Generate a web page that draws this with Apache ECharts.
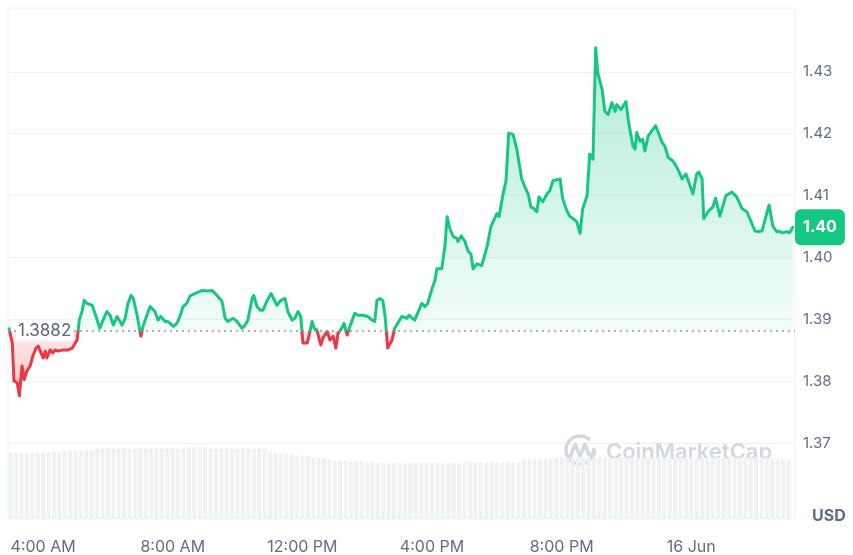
<!DOCTYPE html>
<html>
<head>
<meta charset="utf-8">
<script src="https://cdn.jsdelivr.net/npm/echarts@6.0.0/dist/echarts.min.js"></script>
<style>
  html, body { margin: 0; padding: 0; background: #fff; }
  #main { width: 853px; height: 555px; }
</style>
</head>
<body>
<div id="main"></div>
<script>
// price in USD, time in minutes from 15 Jun 00:00
const basePrice = 1.3882;
const times = [
  177,183,186,192,196,201,205,210,216,221,227,231,240,244,247,253,258,262,268,277,286,294,303,305,
  307,312,316,321,331,336,345,351,358,364,370,377,386,392,397,403,407,414,421,425,432,438,447,453,458,466,471,481,488,494,499,506,512,521,531,
  536,545,553,562,571,577,582,592,599,608,614,619,627,630,636,642,647,655,662,669,673,680,688,693,701,706,712,717,721,729,732,738,742,747,754,758,766,771,777,782,786,793,797,803,808,817,823,832,841,849,854,858,864,869,873,878,886,891,
  904,914,917,928,941,947,952,960,965,969,978,984,988,993,999,1006,1008,1014,1021,1027,1032,1036,1043,1052,1062,1069,1080,1084,1091,1097,1102,1110,1117,1126,1132,1138,1143,1149,1154,1158,1165,1173,1178,1184,1197,1202,1210,1215,1228,1234,1239,1247,1252,1258,
  1263,1267,1275,1280,1286,1293,1299,1302,1310,1319,1324,1332,1336,1339,1345,1350,1354,1360,1374,1386,1391,1397,1406,1415,1423,1430,1443,1450,1454,1460,1463,1471,1480,1485,1493,1504,1515,1524,1534,1543,1558,1563,1571,1584,1591,1598,1604,1609,1617,1622,1628
];
const prices = [
  1.3885,1.3862,1.3801,1.3798,1.3777,1.3825,1.3803,1.3817,1.3825,1.3841,1.3854,1.3857,1.3838,1.3849,1.3838,1.3851,1.3846,1.3851,1.3849,1.3851,1.3851,1.3854,1.3867,1.3883,
  1.3899,1.3913,1.3931,1.3926,1.3923,1.3910,1.3886,1.3899,1.3913,1.3907,1.3891,1.3905,1.3891,1.3902,1.3926,1.3939,1.3934,1.3907,1.3873,1.3889,1.3907,1.3921,1.3913,1.3899,1.3905,1.3897,1.3897,1.3889,1.3894,1.3907,1.3921,1.3926,1.3938,1.3942,1.3946,
  1.3947,1.3946,1.3947,1.3939,1.3930,1.3902,1.3897,1.3902,1.3897,1.3886,1.3891,1.3899,1.3934,1.3939,1.3921,1.3915,1.3915,1.3931,1.3942,1.3930,1.3923,1.3931,1.3934,1.3913,1.3899,1.3902,1.3913,1.3905,1.3862,1.3862,
  1.3873,1.3897,1.3886,1.3883,1.3859,1.3870,1.3881,1.3867,1.3873,1.3854,1.3878,1.3886,1.3894,1.3875,1.3889,1.3910,1.3907,1.3907,1.3905,1.3899,1.3897,1.3931,1.3934,1.3930,1.3907,1.3854,1.3867,1.3886,
  1.3905,1.3902,1.3907,1.3899,1.3926,1.3921,1.3926,1.3950,1.3962,1.3982,1.3982,1.4019,1.4066,1.4047,1.4034,1.4031,1.4026,1.4035,1.4026,1.4010,
  1.4006,1.3982,1.3990,1.3987,1.4018,1.4050,1.4071,1.4066,1.4100,1.4124,1.4201,1.4199,1.4175,1.4127,1.4114,1.4103,1.4082,1.4079,1.4074,1.4098,
  1.4090,1.4103,1.4108,1.4124,1.4127,1.4095,1.4075,1.4067,1.4058,1.4039,1.4079,1.4100,1.4167,1.4159,
  1.4339,1.4298,1.4271,1.4236,1.4231,1.4250,1.4236,1.4247,1.4239,1.4252,1.4218,1.4180,1.4175,1.4202,1.4188,1.4191,1.4172,1.4196,1.4213,1.4186,
  1.4180,1.4162,1.4156,1.4143,1.4127,1.4135,1.4103,1.4135,1.4138,1.4127,1.4063,1.4074,1.4082,1.4096,1.4067,1.4100,1.4106,1.4098,1.4079,1.4074,
  1.4043,1.4042,1.4043,1.4085,1.4051,1.4042,1.4042,1.4040,1.4042,1.4040,1.4049
];
// volume (millions), one bar every 10 minutes from 3:00 AM
const volStart = 180;
const volStep = 10;
const volumes = [
  6.7,6.7,6.7,6.6,6.7,6.7,6.7,6.7,6.8,6.7,6.8,
  6.9,6.9,6.9,7.0,6.9,
  7.1,7.1,7.1,7.1,7.1,7.1,7.1,7.1,7.1,7.1,7.1,7.1,7.1,7.1,7.1,7.1,7.1,
  7.2,7.2,7.3,7.2,7.1,
  7.1,7.1,7.1,7.1,7.1,7.1,7.1,7.1,7.1,7.1,
  6.7,6.7,6.6,
  6.5,6.5,6.4,
  6.3,6.3,6.2,6.2,6.1,6.0,
  5.9,5.9,5.9,5.8,5.8,5.8,5.7,5.7,5.7,
  5.6,5.6,5.6,5.6,5.6,5.6,5.6,5.6,5.6,5.6,5.6,5.6,5.6,5.6,5.6,
  5.7,5.7,5.7,5.7,5.7,5.7,5.7,5.7,5.7,5.7,5.7,
  5.9,6.0,6.0,6.0,6.0,6.1,6.1,
  6.2,6.2,6.2,6.2,6.2,6.2,6.2,6.2,6.2,6.2,6.2,6.2,6.2,6.2,6.2,6.2,6.2,6.2,6.2,6.2,
  6.2,6.2,6.2,6.2,6.2,6.2,6.2,6.2,6.2,6.2,6.2,6.2,6.2,6.2,6.2,6.2,6.2,6.2,6.2,
  6.1,6.0,6.0,6.0
];
const xTicks = [240, 480, 720, 960, 1200, 1440];
const xTickLabels = ["4:00 AM", "8:00 AM", "12:00 PM", "4:00 PM", "8:00 PM", "16 Jun"];
const yTicks = [1.37, 1.38, 1.39, 1.40, 1.41, 1.42, 1.43];

const green = "#16c784";
const red = "#ea3943";
const textGray = "#616e85";

let priceData = times.map((t, i) => [t, prices[i]]);
let volData = volumes.map((v, i) => [volStart + i * volStep, v]);

// where the baseline sits inside the area's bounding box (for the fill gradient)
let maxP = Math.max(...prices, basePrice);
let minP = Math.min(...prices, basePrice);
let baseOff = (maxP - basePrice) / (maxP - minP);

let chart = echarts.init(document.getElementById("main"));
chart.setOption({
  animation: false,
  textStyle: { fontFamily: "Inter, 'Noto Sans', sans-serif" },
  grid: {
    left: 8, right: 58, top: 8, bottom: 33,
    show: true, borderColor: "#eff2f5", borderWidth: 1
  },
  xAxis: {
    type: "value",
    min: 175,
    max: 1632,
    axisLine: { show: false },
    axisTick: { show: false },
    splitLine: { show: false },
    axisLabel: {
      customValues: xTicks,
      margin: 20,
      color: textGray,
      fontSize: 16,
      formatter: v => xTickLabels[xTicks.indexOf(v)]
    }
  },
  yAxis: [{
    type: "value",
    position: "right",
    min: 1.3578,
    max: 1.4403,
    axisLine: { show: false },
    axisTick: { show: false, customValues: yTicks },
    splitLine: { lineStyle: { color: "#eff2f5", width: 1 } },
    axisLabel: {
      customValues: yTicks,
      margin: 8,
      color: textGray,
      fontSize: 15,
      formatter: v => v.toFixed(2)
    }
  }, {
    type: "value",
    min: 0,
    max: 51.4,
    show: false
  }],
  visualMap: {
    type: "piecewise",
    show: false,
    seriesIndex: 0,
    dimension: 1,
    pieces: [
      { gt: 0, lte: basePrice, color: red },
      { gt: basePrice, lte: 10, color: green }
    ]
  },
  graphic: [
    {
      type: "arc",
      shape: { cx: 580, cy: 450, r: 14, startAngle: -Math.PI * 0.05, endAngle: Math.PI * 1.75 },
      style: { stroke: "#d3d8df", fill: null, lineWidth: 3.5 },
      z: 1
    },
    {
      type: "polyline",
      shape: { points: [[570, 458], [575, 444], [580, 456], [585, 444], [589, 455], [596, 452]] },
      style: { stroke: "#d3d8df", fill: null, lineWidth: 3.5, lineJoin: "round" },
      z: 1
    },
    {
      type: "text",
      x: 606, y: 452,
      style: { text: "CoinMarketCap", font: "600 22px Inter", fill: "#d3d8df", verticalAlign: "middle" },
      z: 1
    },
    {
      type: "text",
      x: 812, y: 516,
      style: { text: "USD", font: "bold 16px Inter", fill: textGray, verticalAlign: "middle" }
    }
  ],
  series: [{
    type: "line",
    data: priceData,
    showSymbol: false,
    z: 3,
    lineStyle: { width: 3, join: "round", cap: "round" },
    areaStyle: {
      origin: basePrice,
      opacity: 1,
      color: new echarts.graphic.LinearGradient(0, 0, 0, 1, [
        { offset: 0, color: "rgba(22,199,132,0.34)" },
        { offset: baseOff, color: "rgba(22,199,132,0.05)" },
        { offset: baseOff, color: "rgba(234,57,67,0.1)" },
        { offset: 1, color: "rgba(234,57,67,0.3)" }
      ])
    },
    markLine: {
      silent: true,
      symbol: "none",
      precision: 4,
      data: [{
        yAxis: basePrice,
        lineStyle: { type: [2, 4], color: "#8f97a3", width: 1.5 },
        label: {
          position: "insideStart",
          distance: 8,
          formatter: "{c}",
          color: "#58667e",
          fontSize: 17,
          backgroundColor: "rgba(255,255,255,0.85)",
          padding: [2, 2]
        }
      }, {
        yAxis: prices[prices.length - 1],
        lineStyle: { color: "rgba(0,0,0,0)", width: 0 },
        label: {
          show: true,
          position: "end",
          distance: 0,
          formatter: p => p.value.toFixed(2),
          color: "#fff",
          fontWeight: "bold",
          fontSize: 16,
          backgroundColor: green,
          borderRadius: 6,
          padding: [10, 8]
        }
      }]
    }
  }, {
    type: "bar",
    yAxisIndex: 1,
    data: volData,
    barWidth: 4,
    silent: true,
    z: 1,
    itemStyle: { color: "#eff2f5" }
  }]
});
</script>
</body>
</html>
